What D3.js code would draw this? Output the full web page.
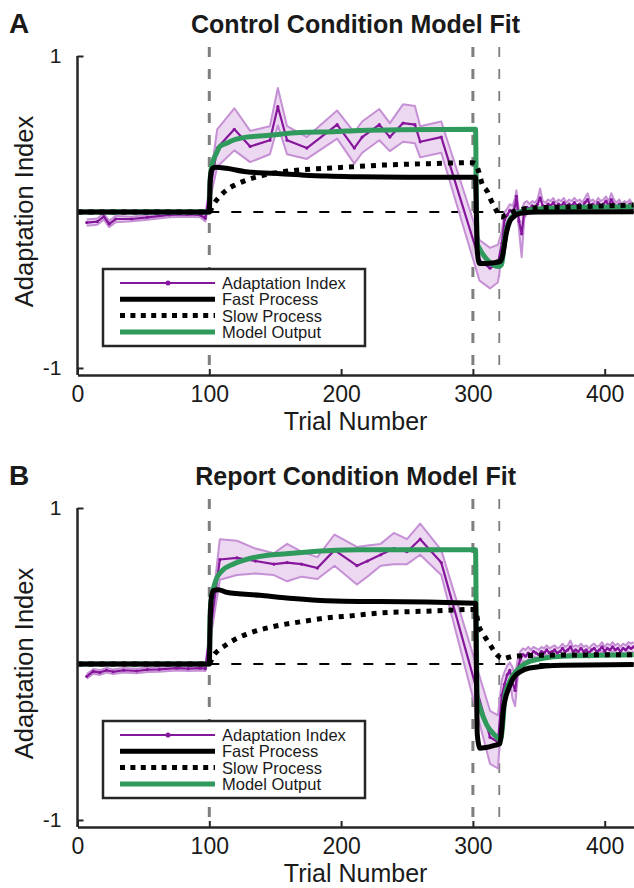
<!DOCTYPE html>
<html><head><meta charset="utf-8">
<script src="https://cdn.jsdelivr.net/npm/d3@7"></script>
<style>
body{margin:0;background:#fff}
svg{display:block}
text{font-family:"Liberation Sans",Arial,Helvetica,sans-serif;fill:#1a1a1a}
</style>
</head><body>
<svg id="chart" width="634" height="888"></svg>
<script>
// ---------- shared ----------
const xTicks = [0, 100, 200, 300, 400];
const yTicks = [-1, 1];
const phaseMarkers = [100, 300, 320];
const legendLabels = ["Adaptation Index", "Fast Process", "Slow Process", "Model Output"];
const panelLetters = ["A", "B"];
const panelTitles = ["Control Condition Model Fit", "Report Condition Model Fit"];
const xLabel = "Trial Number";
const yLabel = "Adaptation Index";

// ---------- Panel A : measured adaptation index (mean, sem) ----------
const dataA_trial = [7,15,20,24,29,41,53,70,83,93,97,
  106,119,131,146,152,159,174,197,210,216,229,237,247,256,260,276,305,313,319,
  322,324,326,328,330,332,333,335,337,339,341,343,345,347,349,351,353,355,357,359,361,363,365,367,369,371,373,375,377,379,381,383,385,387,389,391,393,395,397,399,401,403,405,407,409,411,413,415,417,419,421];
const dataA_mean = [-0.068,-0.062,-0.03,-0.077,-0.045,-0.045,-0.034,-0.019,-0.015,-0.019,-0.04,
  0.41,0.53,0.42,0.46,0.675,0.46,0.41,0.56,0.41,0.48,0.56,0.48,0.57,0.56,0.45,0.48,-0.31,-0.36,-0.33,
  -0.20,-0.05,-0.02,0.01,0.00,0.04,0.10,-0.06,-0.14,0.01,0.03,0.02,0.04,0.03,0.05,0.09,0.04,0.03,0.05,0.04,0.06,0.03,0.05,0.04,0.06,0.03,0.05,0.04,0.06,0.04,0.05,0.03,0.06,0.08,0.04,0.05,0.03,0.06,0.04,0.05,0.07,0.04,0.08,0.05,0.03,0.05,0.02,0.04,0.03,0.05,0.02];
const dataA_sem = [0.02,0.02,0.02,0.02,0.02,0.015,0.015,0.015,0.015,0.015,0.02,
  0.12,0.135,0.10,0.09,0.12,0.09,0.07,0.09,0.10,0.10,0.10,0.09,0.12,0.12,0.10,0.10,0.13,0.13,0.12,
  0.08,0.05,0.04,0.04,0.04,0.05,0.04,0.06,0.15,0.05,0.04,0.03,0.03,0.03,0.03,0.06,0.03,0.03,0.03,0.03,0.03,0.03,0.03,0.03,0.03,0.03,0.03,0.03,0.03,0.03,0.03,0.03,0.03,0.04,0.03,0.03,0.03,0.03,0.03,0.03,0.03,0.03,0.04,0.03,0.03,0.03,0.03,0.03,0.03,0.03,0.03];

// ---------- Panel A : model curves ----------
const fastA_trial = [0,100,100.6,101.5,103,105,113,128,149,169,189,214,250,302,302.6,303.3,305,310,316,321,322.5,325.5,328,331,336,350,422];
const fastA_value = [0,0,0.18,0.26,0.283,0.287,0.28,0.258,0.248,0.238,0.23,0.226,0.223,0.222,0.0,-0.25,-0.33,-0.33,-0.325,-0.315,-0.28,-0.13,-0.06,-0.03,-0.008,0.0,0.002];
const slowA_trial = [0,100,101,103,108,113,120,128.4,148.6,168.8,189,209,229.5,267,300,302,304,307,311,314,318,320.5,322,324.4,330.7,343,381,422];
const slowA_value = [0,0,0.012,0.045,0.10,0.14,0.175,0.205,0.248,0.27,0.28,0.29,0.30,0.31,0.316,0.31,0.27,0.18,0.13,0.07,0.006,-0.03,-0.032,-0.02,0.002,0.024,0.034,0.045];
const modelA_trial = [0,100,100.6,101.5,103,105.6,108,113,118,128,143.5,168.8,194,214,245,302,302.6,303.3,305,308,315.6,320,321.5,322.5,324,327,331,336,350,380,422];
const modelA_value = [0,0,0.2,0.28,0.33,0.38,0.42,0.44,0.46,0.48,0.49,0.51,0.515,0.523,0.528,0.53,0.1,-0.2,-0.235,-0.276,-0.34,-0.35,-0.34,-0.30,-0.19,-0.07,-0.02,0.002,0.02,0.03,0.034];

// ---------- Panel B : measured adaptation index ----------
const dataB_trial = [7,12,17,22,27,35,45,53,62,75,84,93,97,
  108,121,135,149,159,170,182,195,212,220,230,240,250,260,276,313,319,
  322,324,326,328,330,332,334,336,338,340,342,344,346,348,350,352,354,356,358,360,362,364,366,368,370,372,374,376,378,380,382,384,386,388,390,392,394,396,398,400,402,404,406,408,410,412,414,416,418,420,422];
const dataB_mean = [-0.079,-0.047,-0.055,-0.04,-0.05,-0.04,-0.045,-0.036,-0.035,-0.026,-0.03,-0.026,-0.03,
  0.67,0.68,0.66,0.64,0.65,0.64,0.615,0.73,0.63,0.66,0.70,0.74,0.72,0.80,0.65,-0.47,-0.50,
  -0.20,-0.13,-0.07,-0.04,-0.12,-0.17,-0.03,0.03,0.06,0.05,0.07,0.06,0.08,0.07,0.06,0.08,0.07,0.09,0.07,0.08,0.09,0.07,0.08,0.10,0.08,0.09,0.11,0.08,0.09,0.08,0.10,0.08,0.09,0.07,0.09,0.10,0.08,0.09,0.11,0.08,0.10,0.09,0.11,0.09,0.10,0.08,0.10,0.09,0.11,0.10,0.11];
const dataB_sem = [0.015,0.015,0.015,0.015,0.015,0.015,0.015,0.015,0.015,0.015,0.015,0.015,0.015,
  0.13,0.11,0.08,0.07,0.12,0.08,0.07,0.10,0.12,0.10,0.07,0.10,0.08,0.10,0.08,0.17,0.17,
  0.10,0.08,0.06,0.05,0.10,0.10,0.06,0.05,0.04,0.04,0.04,0.03,0.03,0.03,0.03,0.03,0.03,0.03,0.03,0.03,0.03,0.03,0.03,0.03,0.03,0.03,0.04,0.03,0.03,0.03,0.03,0.03,0.03,0.03,0.03,0.03,0.03,0.03,0.03,0.03,0.03,0.03,0.03,0.03,0.03,0.03,0.03,0.03,0.03,0.03,0.03];

// ---------- Panel B : model curves ----------
const fastB_trial = [0,100,100.6,101.5,103,107,113,138.5,163.7,189,214,229.5,302,302.6,303.3,305.4,310,315,320.5,321.5,323,325,327,330.7,336,343,368,422];
const fastB_value = [0,0,0.25,0.42,0.47,0.476,0.46,0.44,0.42,0.405,0.40,0.40,0.39,0.0,-0.45,-0.54,-0.535,-0.525,-0.51,-0.45,-0.30,-0.21,-0.16,-0.09,-0.05,-0.026,-0.008,-0.004];
const slowB_trial = [0,100,101,103,108,113,120,128,148.6,168.8,189,209,229.5,270,300,302,304,308,313,318,321,323,326,330.7,345,380,422];
const slowB_value = [0,0,0.015,0.05,0.095,0.124,0.16,0.19,0.24,0.27,0.295,0.31,0.327,0.34,0.35,0.345,0.26,0.19,0.124,0.06,0.04,0.034,0.04,0.05,0.055,0.058,0.06];
const modelB_trial = [0,100,100.6,101.5,103,105.6,110,118,128,138.5,163.7,189,214,302,302.6,303.3,305.4,310.5,317,320.6,321.5,322.5,324.4,327,330.7,336,343,368,422];
const modelB_value = [0,0,0.3,0.42,0.48,0.55,0.60,0.64,0.67,0.69,0.71,0.726,0.733,0.733,0.2,-0.22,-0.28,-0.39,-0.46,-0.485,-0.47,-0.40,-0.20,-0.13,-0.07,-0.02,0.017,0.05,0.06];

// ---------- drawing ----------
const COL = {
  purple: "#86169b", bandFill: "#ead4ef", bandEdge: "#c690d5",
  green: "#2f9a5b", black: "#000000", gray: "#7f7f7f", axis: "#262626"
};
const svg = d3.select("#chart");
const xLeft = 77.5, xRight = 633.7;
const x = d3.scaleLinear().domain([0, 422]).range([xLeft, xRight]);

const zip = (t, v) => t.map((d, i) => [d, v[i]]);

function drawPanel(idx, offY, data, fast, slow, model) {
  const g = svg.append("g").attr("transform", `translate(0,${offY})`);
  const y = d3.scaleLinear().domain([-1.045, 1]).range([375, 56]);

  // phase markers
  phaseMarkers.forEach((m, i) => {
    g.append("line").attr("x1", x(m)).attr("x2", x(m))
      .attr("y1", 47).attr("y2", 375)
      .attr("stroke", COL.gray).attr("stroke-width", i === 2 ? 1.8 : 3)
      .attr("stroke-dasharray", "10,12");
  });
  // baseline (dashed) after trial 100
  g.append("line").attr("x1", x(phaseMarkers[0])).attr("x2", xRight)
    .attr("y1", y(0)).attr("y2", y(0))
    .attr("stroke", "#000").attr("stroke-width", 2).attr("stroke-dasharray", "10,12");

  // data band
  const pts = data.trial.map((t, i) => ({t, m: data.mean[i], s: data.sem[i]}));
  g.append("path").datum(pts)
    .attr("d", d3.area().x(d => x(d.t)).y0(d => y(d.m - d.s)).y1(d => y(d.m + d.s)))
    .attr("fill", COL.bandFill).attr("fill-opacity", 0.9);
  ["+", "-"].forEach(sg => {
    g.append("path").datum(pts)
      .attr("d", d3.line().x(d => x(d.t)).y(d => y(sg === "+" ? d.m + d.s : d.m - d.s)))
      .attr("fill", "none").attr("stroke", COL.bandEdge).attr("stroke-width", 2).attr("stroke-linejoin", "round");
  });
  g.append("path").datum(pts)
    .attr("d", d3.line().x(d => x(d.t)).y(d => y(d.m)))
    .attr("fill", "none").attr("stroke", COL.purple).attr("stroke-width", 2.2).attr("stroke-linejoin", "round");
  g.selectAll("circle.pt").data(pts).enter().append("circle")
    .attr("cx", d => x(d.t)).attr("cy", d => y(d.m)).attr("r", 1.6).attr("fill", COL.purple);

  const curve = d3.line().x(d => x(d[0])).y(d => y(d[1])).curve(d3.curveMonotoneX);
  g.append("path").datum(model).attr("d", curve).attr("fill", "none")
    .attr("stroke", COL.green).attr("stroke-width", 5);
  g.append("path").datum(fast).attr("d", curve).attr("fill", "none")
    .attr("stroke", COL.black).attr("stroke-width", 5);
  g.append("path").datum(slow).attr("d", curve).attr("fill", "none")
    .attr("stroke", COL.black).attr("stroke-width", 5).attr("stroke-dasharray", "5,6");

  // axes
  const xa = g.append("g").attr("transform", "translate(0,375)")
    .call(d3.axisBottom(x).tickValues(xTicks).tickSize(-6).tickPadding(11).tickSizeOuter(0));
  xa.select(".domain").attr("stroke", COL.axis).attr("stroke-width", 2.5);
  xa.selectAll(".tick line").attr("stroke", COL.axis).attr("stroke-width", 2);
  xa.selectAll("text").attr("font-size", 23).attr("fill", "#1a1a1a")
    .attr("font-family", '"Liberation Sans",Arial,sans-serif');

  const ya = g.append("g").attr("transform", `translate(${xLeft},0)`)
    .call(d3.axisLeft(y).tickValues(yTicks).tickFormat(d3.format("d")).tickSize(-6).tickPadding(16).tickSizeOuter(0));
  ya.select(".domain").attr("stroke", COL.axis).attr("stroke-width", 2.5).attr("d", `M0,${y(1)}V375`);
  ya.selectAll(".tick line").attr("stroke", COL.axis).attr("stroke-width", 2);
  ya.selectAll("text").attr("font-size", 21).attr("fill", "#1a1a1a")
    .attr("font-family", '"Liberation Sans",Arial,sans-serif')
    .text(d => d < 0 ? "-1" : "1");

  // labels
  g.append("text").attr("x", (xLeft + xRight) / 2).attr("y", 430).attr("text-anchor", "middle")
    .attr("font-size", 25).text(xLabel);
  g.append("text").attr("transform", `translate(33,${(56 + 375) / 2 - 4}) rotate(-90)`)
    .attr("text-anchor", "middle").attr("font-size", 25.5).text(yLabel);
  g.append("text").attr("x", (xLeft + xRight) / 2).attr("y", 33).attr("text-anchor", "middle")
    .attr("font-size", 25).attr("font-weight", "bold").text(panelTitles[idx]);
  g.append("text").attr("x", 9).attr("y", 33).attr("font-size", 28).attr("font-weight", "bold")
    .text(panelLetters[idx]);

  // legend
  const lg = g.append("g");
  lg.append("rect").attr("x", 103).attr("y", 269).attr("width", 262).attr("height", 77)
    .attr("fill", "#fff").attr("stroke", COL.axis).attr("stroke-width", 2.5);
  const rows = [283, 299.3, 315.6, 332];
  const styles = [
    {c: COL.purple, w: 2, dash: null},
    {c: "#000", w: 5, dash: null},
    {c: "#000", w: 5, dash: "5,5.4"},
    {c: COL.green, w: 5, dash: null}
  ];
  legendLabels.forEach((lab, i) => {
    const l = lg.append("line").attr("x1", 120).attr("x2", 215).attr("y1", rows[i]).attr("y2", rows[i])
      .attr("stroke", styles[i].c).attr("stroke-width", styles[i].w);
    if (styles[i].dash) l.attr("stroke-dasharray", styles[i].dash);
    if (i === 0) lg.append("circle").attr("cx", 168).attr("cy", rows[i]).attr("r", 2.5).attr("fill", COL.purple);
    lg.append("text").attr("x", 222).attr("y", rows[i] + 6).attr("font-size", 16.5).text(lab);
  });
}

drawPanel(0, 0,
  {trial: dataA_trial, mean: dataA_mean, sem: dataA_sem},
  zip(fastA_trial, fastA_value), zip(slowA_trial, slowA_value), zip(modelA_trial, modelA_value));
drawPanel(1, 452,
  {trial: dataB_trial, mean: dataB_mean, sem: dataB_sem},
  zip(fastB_trial, fastB_value), zip(slowB_trial, slowB_value), zip(modelB_trial, modelB_value));
</script>
</body></html>
